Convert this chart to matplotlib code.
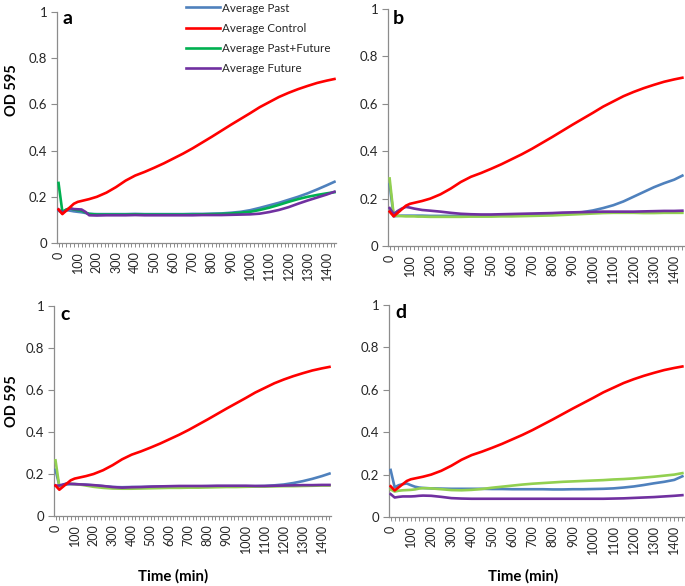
import matplotlib
matplotlib.use("Agg")
import matplotlib.pyplot as plt
from matplotlib.ticker import MultipleLocator, FixedLocator, FuncFormatter

plt.rcParams['font.family'] = ['Lato', 'DejaVu Sans']

time_min = [0, 20, 40, 60, 80, 100, 120, 140, 160, 200, 250, 300, 350, 400, 450, 500, 550, 600,
            650, 700, 750, 800, 850, 900, 950, 1000, 1050, 1100, 1150, 1200, 1250, 1300, 1350,
            1400, 1440]

control = [0.145, 0.125, 0.14, 0.155, 0.17, 0.178, 0.182, 0.186, 0.19, 0.2, 0.218, 0.242, 0.27,
           0.292, 0.308, 0.326, 0.345, 0.366, 0.387, 0.41, 0.435, 0.46, 0.486, 0.512, 0.537,
           0.562, 0.588, 0.61, 0.632, 0.65, 0.666, 0.68, 0.693, 0.703, 0.71]

past_a = [0.14, 0.13, 0.143, 0.14, 0.137, 0.135, 0.133, 0.13, 0.126, 0.125, 0.125, 0.125, 0.125,
          0.126, 0.125, 0.125, 0.125, 0.125, 0.125, 0.126, 0.126, 0.127, 0.128, 0.131, 0.135,
          0.142, 0.152, 0.163, 0.174, 0.187, 0.2, 0.215, 0.232, 0.25, 0.265]
pastfut_a = [0.26, 0.135, 0.145, 0.15, 0.145, 0.142, 0.14, 0.132, 0.126, 0.123, 0.123, 0.123,
             0.123, 0.124, 0.123, 0.123, 0.123, 0.123, 0.123, 0.123, 0.124, 0.125, 0.126, 0.128,
             0.131, 0.135, 0.143, 0.153, 0.165, 0.178, 0.19, 0.2, 0.208, 0.215, 0.22]
future_a = [0.145, 0.132, 0.14, 0.15, 0.147, 0.146, 0.145, 0.135, 0.12, 0.119, 0.12, 0.12, 0.12,
            0.121, 0.12, 0.12, 0.12, 0.12, 0.12, 0.12, 0.121, 0.121, 0.121, 0.122, 0.123, 0.124,
            0.127, 0.134, 0.143, 0.155, 0.17, 0.184, 0.197, 0.21, 0.222]

past_b = [0.26, 0.125, 0.127, 0.128, 0.128, 0.128, 0.128, 0.128, 0.128, 0.127, 0.127, 0.127,
          0.127, 0.127, 0.127, 0.128, 0.128, 0.129, 0.13, 0.131, 0.132, 0.133, 0.135, 0.138,
          0.143, 0.15, 0.16, 0.172, 0.188, 0.208, 0.228, 0.248, 0.265, 0.28, 0.297]
pastfut_b = [0.285, 0.13, 0.127, 0.126, 0.125, 0.125, 0.125, 0.124, 0.124, 0.123, 0.123, 0.123,
             0.123, 0.124, 0.124, 0.124, 0.125, 0.125, 0.126, 0.127, 0.128, 0.129, 0.131, 0.133,
             0.135, 0.137, 0.139, 0.14, 0.14, 0.14, 0.139, 0.139, 0.14, 0.14, 0.14]
future_b = [0.16, 0.135, 0.148, 0.158, 0.165, 0.162, 0.158, 0.155, 0.152, 0.149, 0.145, 0.14,
            0.136, 0.134, 0.133, 0.133, 0.134, 0.135, 0.136, 0.137, 0.138, 0.139, 0.141, 0.142,
            0.143, 0.144, 0.145, 0.145, 0.145, 0.145, 0.146, 0.147, 0.148, 0.148, 0.149]

past_c = [0.22, 0.145, 0.148, 0.15, 0.152, 0.152, 0.151, 0.15, 0.149, 0.146, 0.142, 0.138, 0.137,
          0.138, 0.138, 0.139, 0.14, 0.14, 0.141, 0.141, 0.141, 0.142, 0.142, 0.142, 0.142,
          0.142, 0.142, 0.143, 0.146, 0.15, 0.157, 0.166, 0.177, 0.19, 0.202]
pastfut_c = [0.265, 0.14, 0.147, 0.155, 0.153, 0.152, 0.15, 0.148, 0.145, 0.139, 0.134, 0.131,
             0.13, 0.13, 0.131, 0.132, 0.133, 0.134, 0.134, 0.135, 0.135, 0.136, 0.137, 0.138,
             0.138, 0.139, 0.14, 0.14, 0.141, 0.142, 0.142, 0.143, 0.144, 0.145, 0.145]
future_c = [0.145, 0.145, 0.15, 0.155, 0.153, 0.152, 0.151, 0.15, 0.149, 0.147, 0.143, 0.138,
            0.135, 0.137, 0.138, 0.14, 0.141, 0.142, 0.143, 0.143, 0.143, 0.143, 0.144, 0.144,
            0.144, 0.144, 0.143, 0.143, 0.144, 0.145, 0.146, 0.147, 0.147, 0.148, 0.148]

past_d = [0.222, 0.14, 0.15, 0.155, 0.158, 0.15, 0.143, 0.139, 0.137, 0.135, 0.134, 0.133, 0.133,
          0.133, 0.133, 0.132, 0.132, 0.131, 0.131, 0.131, 0.131, 0.13, 0.13, 0.131, 0.131,
          0.132, 0.133, 0.135, 0.139, 0.144, 0.151, 0.159, 0.166, 0.175, 0.192]
pastfut_d = [0.13, 0.12, 0.124, 0.126, 0.127, 0.128, 0.13, 0.134, 0.136, 0.135, 0.131, 0.127,
             0.126, 0.128, 0.132, 0.138, 0.143, 0.148, 0.153, 0.157, 0.16, 0.163, 0.166, 0.168,
             0.17, 0.172, 0.174, 0.177, 0.179, 0.182, 0.186, 0.19, 0.195, 0.2, 0.207]
future_d = [0.108, 0.092, 0.095, 0.097, 0.097, 0.097, 0.098, 0.1, 0.101, 0.1, 0.095, 0.089, 0.087,
            0.086, 0.086, 0.086, 0.086, 0.086, 0.086, 0.086, 0.086, 0.086, 0.086, 0.086, 0.086,
            0.086, 0.086, 0.087, 0.088, 0.09, 0.092, 0.094, 0.097, 0.1, 0.103]

series_labels = ["Average Past", "Average Control", "Average Past+Future", "Average Future"]
panel_letters = ["a", "b", "c", "d"]
y_ticks = [0, 0.2, 0.4, 0.6, 0.8, 1.0]
x_ticks = list(range(0, 1401, 100))

panels = [
    (past_a, pastfut_a, future_a),
    (past_b, pastfut_b, future_b),
    (past_c, pastfut_c, future_c),
    (past_d, pastfut_d, future_d),
]

W, H = 685, 586
fig = plt.figure(figsize=(W / 100, H / 100), dpi=100)

# axes rectangles in pixels: left, right, top, bottom
rects = [(57, 336, 12, 243), (388, 684, 9, 246), (54, 331, 306, 516), (389, 684, 305, 517)]
# panel letter positions (left, baseline) in pixels
letter_pos = [(62, 24), (393, 24), (60, 320), (395, 318)]

blue = "#4F81BD"
red = "#FF0000"
purple = "#7030A0"
greens = ["#00B050", "#92D050", "#92D050", "#92D050"]
axis_gray = "#8C8C8C"
text_col = "#262626"

lw = 1.9
for i, (l, r, t, b) in enumerate(rects):
    ax = fig.add_axes([l / W, 1 - b / H, (r - l) / W, (b - t) / H])
    past, pf, fut = panels[i]
    h1, = ax.plot(time_min, past, color=blue, lw=lw, zorder=3, label=series_labels[0])
    h2, = ax.plot(time_min, control, color=red, lw=lw, zorder=6, label=series_labels[1])
    h3, = ax.plot(time_min, pf, color=greens[i], lw=lw, zorder=4, label=series_labels[2])
    h4, = ax.plot(time_min, fut, color=purple, lw=lw, zorder=5, label=series_labels[3])
    ax.set_xlim(-8, 1448)
    ax.set_ylim(0, 1)
    for s in ["top", "right"]:
        ax.spines[s].set_visible(False)
    for s in ["left", "bottom"]:
        ax.spines[s].set_color(axis_gray)
        ax.spines[s].set_linewidth(0.9)
    ax.yaxis.set_major_locator(FixedLocator(y_ticks))
    ax.yaxis.set_major_formatter(FuncFormatter(lambda v, p: "%g" % v))
    ax.xaxis.set_major_locator(FixedLocator(x_ticks))
    ax.xaxis.set_minor_locator(MultipleLocator(20))
    ax.tick_params(axis="y", direction="out", length=4, width=0.8, color=axis_gray,
                   labelsize=9.5, labelcolor=text_col, pad=3)
    ax.tick_params(axis="x", which="both", direction="out", length=3, width=0.7, color=axis_gray,
                   labelsize=9, labelcolor=text_col, pad=3)
    ax.tick_params(axis="x", labelrotation=90)
    lx, ly = letter_pos[i]
    fig.text(lx / W, 1 - ly / H, panel_letters[i], fontsize=14, fontweight="bold",
             va="baseline", ha="left", color="black")
    if i == 0:
        fig.legend(handles=[h1, h2, h3, h4], loc="upper left",
                   bbox_to_anchor=(186 / W, 1 - 2.5 / H), frameon=False, fontsize=8.4,
                   handlelength=2.9, handletextpad=0.15, labelspacing=0.8, borderpad=0.0,
                   borderaxespad=0.0, labelcolor=text_col)

fig.text(12 / W, 1 - 90 / H, "OD 595", rotation=90, fontsize=10.5, fontweight="bold",
         ha="center", va="center")
fig.text(12 / W, 1 - 401 / H, "OD 595", rotation=90, fontsize=10.5, fontweight="bold",
         ha="center", va="center")
fig.text(173 / W, 1 - 576 / H, "Time (min)", fontsize=10.8, fontweight="bold",
         ha="center", va="center")
fig.text(523 / W, 1 - 576 / H, "Time (min)", fontsize=10.8, fontweight="bold",
         ha="center", va="center")

fig.savefig("out.png", dpi=100)
